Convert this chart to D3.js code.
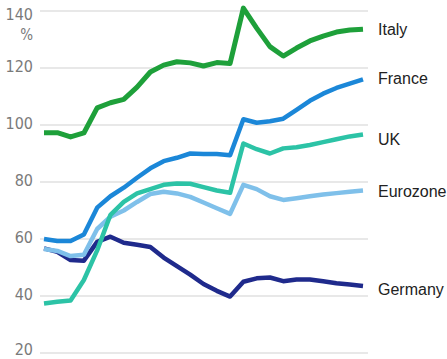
<!DOCTYPE html>
<html>
<head>
<meta charset="utf-8">
<script src="https://cdn.jsdelivr.net/npm/d3@7"></script>
<style>
  html, body { margin: 0; padding: 0; background: #fff; }
  svg { display: block; }
</style>
</head>
<body>
<svg id="chart" width="447" height="359"></svg>
<script>
// years along the x axis (no labels shown in the picture)
const years = [1995, 1996, 1997, 1998, 1999, 2000, 2001, 2002, 2003, 2004, 2005, 2006,
  2007, 2008, 2009, 2010, 2011, 2012, 2013, 2014, 2015, 2016, 2017, 2018, 2019];

const italy = [97.3, 97.3, 95.8, 97.2, 106, 107.8, 109, 113.3, 118.6, 121, 122.2, 121.8,
  120.7, 121.9, 121.6, 141, 134, 127.5, 124.2, 127, 129.5, 131.2, 132.6, 133.3, 133.6];
const france = [60, 59.3, 59.3, 61.6, 71, 75, 78, 81.5, 84.8, 87.3, 88.5, 90,
  89.8, 89.8, 89.4, 102, 100.8, 101.3, 102.2, 105.3, 108.5, 111, 113, 114.5, 116];
const uk = [37.4, 38, 38.4, 45.6, 56, 68.5, 73, 76, 77.5, 79, 79.5, 79.4,
  78.2, 77, 76.2, 93.5, 91.5, 90, 91.8, 92.2, 93, 94, 95, 96, 96.7];
const eurozone = [56.5, 55.8, 54, 54.5, 63.5, 67.8, 70, 73, 75.8, 76.6, 76, 74.8,
  72.8, 70.8, 68.8, 79, 77.5, 75, 73.7, 74.3, 75, 75.6, 76.1, 76.6, 77];
const germany = [56.7, 55.5, 52.6, 52.4, 59, 60.8, 58.7, 58, 57.2, 53.5, 50.5, 47.5,
  44.2, 41.8, 39.8, 45, 46.2, 46.5, 45.2, 45.8, 45.8, 45.2, 44.5, 44, 43.5];

const yTicks = [20, 40, 60, 80, 100, 120, 140];

const series = [
  { name: "Germany", values: germany, color: "#1f2a8c" },
  { name: "Eurozone", values: eurozone, color: "#7fc0ea" },
  { name: "UK", values: uk, color: "#2cc3a6" },
  { name: "France", values: france, color: "#1b87d8" },
  { name: "Italy", values: italy, color: "#1ea03a" }
];

// small vertical nudges so labels sit like the original
const labelNudge = { Italy: 0, France: -1.5, UK: 5, Eurozone: 0.5, Germany: 3.5 };

const svg = d3.select("#chart");

const x = d3.scaleLinear()
  .domain([years[0], years[years.length - 1]])
  .range([44, 363]);

const y = d3.scaleLinear()
  .domain([20, 140])
  .range([353, 11]);

// gridlines
svg.append("g")
  .selectAll("line")
  .data(yTicks)
  .join("line")
  .attr("x1", 40)
  .attr("x2", 368)
  .attr("y1", d => y(d))
  .attr("y2", d => y(d))
  .attr("stroke", "#e1e1e1")
  .attr("stroke-width", 1.5);

// tick labels
function tickShift(d) {
  if (d === 140) return 3;
  if (d === 20) return -4;
  return -1.5;
}

svg.append("g")
  .selectAll("text")
  .data(yTicks)
  .join("text")
  .attr("x", 33)
  .attr("y", d => y(d) + tickShift(d))
  .attr("dy", "0.36em")
  .attr("text-anchor", "end")
  .attr("fill", "#7a7a7a")
  .style("font-family", "'Liberation Sans Narrow', 'DejaVu Sans Condensed', 'Liberation Sans', sans-serif")
  .style("font-size", "16px")
  .text(d => d);

svg.append("text")
  .attr("x", 33)
  .attr("y", 40)
  .attr("text-anchor", "end")
  .attr("fill", "#7a7a7a")
  .style("font-family", "'Liberation Sans Narrow', 'DejaVu Sans Condensed', 'Liberation Sans', sans-serif")
  .style("font-size", "15px")
  .text("%");

const line = d3.line()
  .x((d, i) => x(years[i]))
  .y(d => y(d));

svg.append("g")
  .selectAll("path")
  .data(series)
  .join("path")
  .attr("d", d => line(d.values))
  .attr("fill", "none")
  .attr("stroke", d => d.color)
  .attr("stroke-width", d => d.name === "Italy" ? 5 : 4.5)
  .attr("stroke-linejoin", "round")
  .attr("stroke-linecap", "butt");

// series labels at the right end
svg.append("g")
  .selectAll("text")
  .data(series)
  .join("text")
  .attr("x", 378)
  .attr("y", d => y(d.values[d.values.length - 1]) + labelNudge[d.name])
  .attr("dy", "0.35em")
  .attr("fill", "#222")
  .style("font-family", "'Liberation Sans', Arial, sans-serif")
  .style("font-size", "16px")
  .text(d => d.name);
</script>
</body>
</html>
